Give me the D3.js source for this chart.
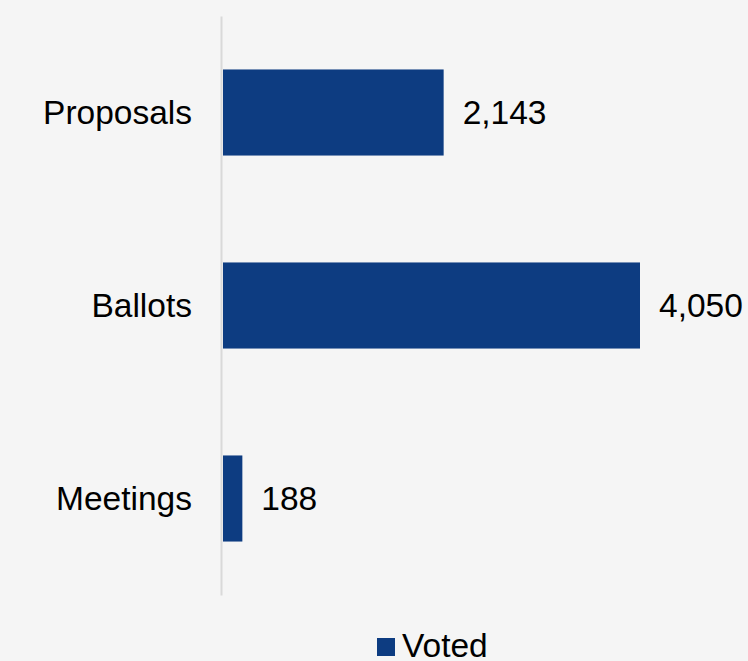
<!DOCTYPE html>
<html>
<head>
<meta charset="utf-8">
<script src="https://cdn.jsdelivr.net/npm/d3@7"></script>
<style>
  html, body { margin: 0; padding: 0; background: #f5f5f5; }
  svg { display: block; }
  text { font-family: "Liberation Sans", Arial, sans-serif; fill: #000; }
</style>
</head>
<body>
<svg id="chart" width="748" height="661"></svg>
<script>
// Voting activity counts
const categories = ["Proposals", "Ballots", "Meetings"];
const voted = [2143, 4050, 188];
const seriesName = "Voted";

const W = 748, H = 661;
const barColor = "#0d3c81";
const fontSize = 33.5;

const svg = d3.select("#chart");
svg.append("rect").attr("width", W).attr("height", H).attr("fill", "#f5f5f5");

const x = d3.scaleLinear().domain([0, 4050]).range([223, 640]);
const y = d3.scaleBand()
  .domain(categories)
  .range([16, 595])
  .paddingInner(0.554)
  .paddingOuter(0.277);

const rows = categories.map((c, i) => ({ cat: c, value: voted[i] }));

// bars
svg.append("g").selectAll("rect")
  .data(rows)
  .join("rect")
  .attr("x", x(0))
  .attr("y", d => y(d.cat))
  .attr("width", d => x(d.value) - x(0))
  .attr("height", y.bandwidth())
  .attr("fill", barColor);

// category axis
const axis = svg.append("g")
  .attr("transform", `translate(${x(0) - 2},0)`)
  .call(d3.axisLeft(y).tickSize(0).tickPadding(29));
axis.select(".domain").attr("stroke", "#d9d9d9").attr("stroke-width", 2);
axis.selectAll("text")
  .style("font-family", '"Liberation Sans", Arial, sans-serif')
  .style("font-size", fontSize + "px")
  .attr("fill", "#000")
  .attr("dy", "0.35em");

// value labels
const fmt = d3.format(",");
svg.append("g").selectAll("text")
  .data(rows)
  .join("text")
  .attr("x", d => x(d.value) + 19)
  .attr("y", d => y(d.cat) + y.bandwidth() / 2)
  .attr("dy", "0.35em")
  .style("font-size", fontSize + "px")
  .text(d => fmt(d.value));

// legend
const lg = svg.append("g").attr("transform", "translate(377,638)");
lg.append("rect").attr("width", 18).attr("height", 18).attr("fill", barColor);
lg.append("text")
  .attr("x", 25)
  .attr("y", 18.5)
  .style("font-size", fontSize + "px")
  .text(seriesName);
</script>
</body>
</html>
